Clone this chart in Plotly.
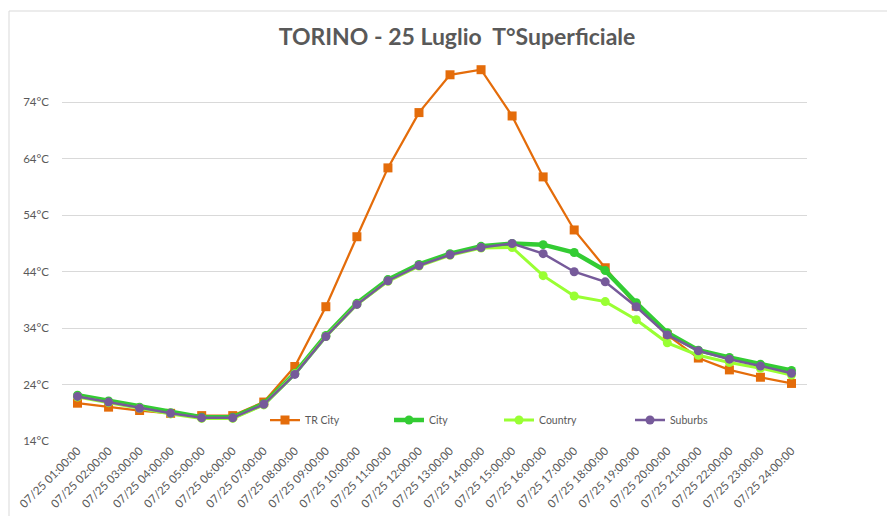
import plotly.graph_objects as go

hours = [f"07/25 {h:02d}:00:00" for h in range(1, 25)]

tr_city = [20.7, 20.0, 19.4, 18.9, 18.5, 18.5, 20.9, 27.2, 37.8, 50.2, 62.4, 72.2, 78.9, 79.8,
           71.6, 60.8, 51.4, 44.7, 37.9, 32.8, 28.7, 26.6, 25.3, 24.2]
city = [22.1, 21.1, 20.0, 19.0, 18.2, 18.2, 20.6, 26.0, 32.7, 38.4, 42.6, 45.3, 47.2, 48.5,
        49.0, 48.8, 47.4, 44.2, 38.5, 33.2, 30.1, 28.8, 27.6, 26.5]
country = [21.8, 20.8, 19.8, 18.8, 18.0, 18.0, 20.4, 25.9, 32.5, 38.2, 42.3, 45.0, 46.9, 48.2,
           48.3, 43.3, 39.7, 38.7, 35.5, 31.4, 29.2, 27.9, 26.9, 25.7]
suburbs = [21.9, 20.9, 19.8, 18.9, 18.1, 18.1, 20.5, 25.8, 32.5, 38.2, 42.4, 45.1, 47.0, 48.3,
           49.0, 47.2, 44.0, 42.2, 37.8, 32.8, 30.0, 28.5, 27.3, 26.0]

y_ticks = [14, 24, 34, 44, 54, 64, 74]
y_tick_text = [f"{v}°C" for v in y_ticks]

FONT = "Lato"
GREY = "#595959"

# page offset (body margin) in the screenshot
OFF = 8
W, H = 895, 516
# plot area in screen pixels: x 62..807, y 46..441
L = 62 - OFF
T = 46 - OFF
R = W - (807 - OFF)
B = H - (441 - OFF)
pw, ph = W - L - R, H - T - B


def px_x(sx):
    return (sx - OFF - L) / pw


def px_y(sy):
    return (H - B - (sy - OFF)) / ph


series = [
    ("TR City", tr_city, "#E46C0A", 2.25, "square", 9, "legend", 270),
    ("City", city, "#33CC33", 4.5, "circle", 9, "legend2", 394),
    ("Country", country, "#99FF33", 3, "circle", 9, "legend3", 504),
    ("Suburbs", suburbs, "#765A9A", 2.5, "circle", 9, "legend4", 635),
]

fig = go.Figure()
legend_layouts = {}
for name, vals, color, lw, sym, ms, lg, lx in series:
    fig.add_trace(go.Scatter(x=hours, y=vals, name=name, mode="lines+markers",
                             line=dict(color=color, width=lw),
                             marker=dict(symbol=sym, size=ms, color=color),
                             legend=lg))
    legend_layouts[lg] = dict(orientation="h", x=px_x(lx - 5), xanchor="left",
                              y=px_y(420), yanchor="middle",
                              bgcolor="rgba(0,0,0,0)",
                              font=dict(family=FONT, size=10.5, color=GREY),
                              itemwidth=30)

fig.update_layout(
    width=W, height=H,
    margin=dict(l=L, r=R, t=T, b=B),
    paper_bgcolor="white", plot_bgcolor="white",
    font=dict(family=FONT, color=GREY, size=10),
    title=dict(text="<b>TORINO - 25 Luglio  T°Superficiale</b>",
               x=(457 - OFF) / W, xanchor="center", xref="container",
               y=1 - (37 - OFF) / H, yanchor="middle", yref="container",
               font=dict(family=FONT, size=23, color=GREY)),
    showlegend=True,
    xaxis=dict(type="category", showgrid=False, showline=False, zeroline=False,
               tickangle=-45, tickfont=dict(family=FONT, size=11.5, color=GREY),
               ticks="", automargin=False, range=[-0.5, 23.5]),
    yaxis=dict(range=[14, 84], tickvals=y_ticks, ticktext=y_tick_text,
               showgrid=True, gridcolor="#D9D9D9", gridwidth=1, zeroline=False,
               showline=False, ticks="", ticklabelstandoff=12, automargin=False,
               tickfont=dict(family=FONT, size=11.5, color=GREY)),
    **legend_layouts,
)

# chart frame (top and left border lines)
fig.add_shape(type="line", xref="paper", yref="paper",
              x0=px_x(9), x1=px_x(W + 20), y0=px_y(11), y1=px_y(11),
              line=dict(color="#D9D9D9", width=1))
fig.add_shape(type="line", xref="paper", yref="paper",
              x0=px_x(9), x1=px_x(9), y0=px_y(11), y1=px_y(H + 20),
              line=dict(color="#D9D9D9", width=1))

fig.write_html("out.html")
